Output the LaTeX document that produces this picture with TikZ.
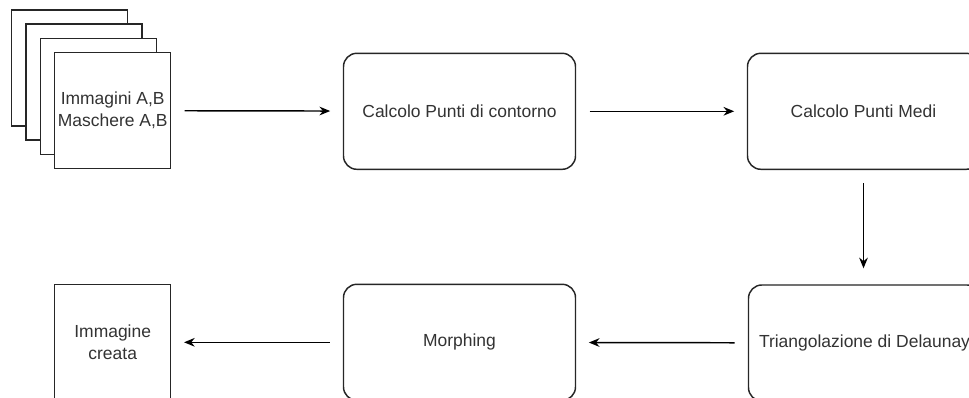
\documentclass[tikz,border=0pt]{standalone}
\usepackage{fontspec}
\setmainfont{Liberation Sans}
\usetikzlibrary{arrows.meta}
\begin{document}
\begin{tikzpicture}[x=0.75pt,y=-0.75pt,
  lbl/.style={font=\fontsize{13.1}{16.5}\selectfont, text=black!80, align=center},
  sheet/.style={draw=black!85, line width=1.1pt, fill=white, minimum width=87pt, minimum height=87pt, inner sep=0pt, outer sep=0pt},
  procbox/.style={draw=black!85, line width=1.1pt, fill=white, rounded corners=10pt, minimum width=174pt, minimum height=87pt, inner sep=0pt, outer sep=0pt},
  flow/.style={draw=black, line width=1.1pt, -{Stealth[length=8pt,width=6.5pt]}, shorten <=10.5pt, shorten >=10pt}
]
\useasboundingbox (0,0) rectangle (969,398);
\node[sheet] (s1) at (69.7,67.9) {};
\node[sheet] (s2) at (84,82.2) {};
\node[sheet] (s3) at (98.3,96.4) {};
\node[sheet, lbl] (s4) at (112.7,110.6) {Immagini A,B\\Maschere A,B};
\node[procbox, lbl] (b1) at (459.5,111.3) {Calcolo Punti di contorno};
\node[procbox, lbl] (b2) at (863.5,111.3) {Calcolo Punti Medi};
\node[procbox, lbl] (b3) at (864.5,343) {Triangolazione di Delaunay};
\node[procbox, lbl] (b4) at (459.5,342.3) {Morphing};
\node[sheet, lbl] (out) at (112.7,342.3) {Immagine\\creata};
\draw[flow] (s4) -- (b1);
\draw[flow] (b1) -- (b2);
\draw[flow, shorten >=12.5pt] (b2) -- (b2 |- b3.north);
\draw[flow] (b3) -- (b4);
\draw[flow] (b4) -- (out);
\end{tikzpicture}
\end{document}
